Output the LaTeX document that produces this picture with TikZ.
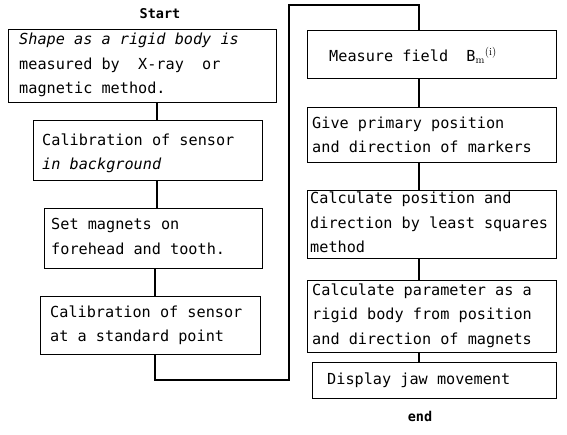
\documentclass[tikz,border=0pt]{standalone}
\usepackage{fontspec}
\setmonofont{DejaVu Sans Mono}
\begin{document}
\begin{tikzpicture}[x=1pt,y=-1pt,
  flowbox/.style={draw, line width=1.1pt, anchor=north west, inner sep=0pt},
  boxtext/.style={anchor=west, align=left, inner sep=0pt,
    font=\ttfamily\fontsize{15.2}{24.3}\selectfont},
  flowline/.style={line width=1.1pt},
  termtext/.style={font=\ttfamily\bfseries\fontsize{13.5}{15}\selectfont, inner sep=0pt}]
\useasboundingbox (0,0) rectangle (567,435);
% left column
\node[termtext] (start) at (160,14) {Start};
\node[flowbox, minimum width=268pt, minimum height=73pt] (b1) at (8,29) {};
\node[boxtext] (t1) at ([xshift=11pt,yshift=1pt]b1.west)
  {\itshape Shape as a rigid body is\\\upshape measured by\ \ X-ray\ \ or\\magnetic method.};
\node[flowbox, minimum width=229pt, minimum height=60pt] (b2) at (33,120) {};
\node[boxtext] (t2) at ([xshift=9pt,yshift=-3pt]b2.west)
  {Calibration of sensor\\\itshape in background};
\node[flowbox, minimum width=218pt, minimum height=60pt] (b3) at (44,208) {};
\node[boxtext] (t3) at ([xshift=7pt,yshift=2pt]b3.west)
  {Set magnets on\\forehead and tooth.};
\node[flowbox, minimum width=220pt, minimum height=58pt] (b4) at (40,296) {};
\node[boxtext] (t4) at ([xshift=10pt]b4.west)
  {Calibration of sensor\\at a standard point};
% right column
\node[flowbox, minimum width=249pt, minimum height=48pt] (b5) at (307,30) {};
\node[boxtext] (t5) at ([xshift=22pt,yshift=-1pt]b5.west)
  {Measure field\ \ B$_{\mathrm{m}}{}^{(\mathrm{i})}$};
\node[flowbox, minimum width=249pt, minimum height=55pt] (b6) at (307,107) {};
\node[boxtext] (t6) at ([xshift=5pt]b6.west)
  {Give primary position\\and direction of markers};
\node[flowbox, minimum width=249pt, minimum height=68pt] (b7) at (307,190) {};
\node[boxtext] (t7) at ([xshift=3pt,yshift=2pt]b7.west)
  {Calculate position and\\direction by least squares\\method};
\node[flowbox, minimum width=249pt, minimum height=72pt] (b8) at (307,280) {};
\node[boxtext] (t8) at ([xshift=5pt,yshift=1pt]b8.west)
  {Calculate parameter as a\\rigid body from position\\and direction of magnets};
\node[flowbox, minimum width=244pt, minimum height=36pt] (b9) at (312,362) {};
\node[boxtext] (t9) at ([xshift=15pt]b9.west)
  {Display jaw movement};
\node[termtext] (end) at (420,416) {end};
% connector guides
\coordinate (cl) at (157,0);
\coordinate (cr) at (419,0);
\coordinate (loopa) at (155,380);
\coordinate (loopb) at (289,380);
\coordinate (loopc) at (289,5);
\coordinate (loopd) at (419,5);
\draw[flowline] (b1.south -| cl) -- (b2.north -| cl);
\draw[flowline] (b2.south -| cl) -- (b3.north -| cl);
\draw[flowline] (b3.south -| loopa) -- (b4.north -| loopa);
\draw[flowline] (b4.south -| loopa) -- (loopa) -- (loopb) -- (loopc) -- (loopd) -- (b5.north -| loopd);
\draw[flowline] (b5.south -| cr) -- (b6.north -| cr);
\draw[flowline] (b6.south -| cr) -- (b7.north -| cr);
\draw[flowline] (b7.south -| cr) -- (b8.north -| cr);
\draw[flowline] (b8.south -| cr) -- (b9.north -| cr);
\end{tikzpicture}
\end{document}
